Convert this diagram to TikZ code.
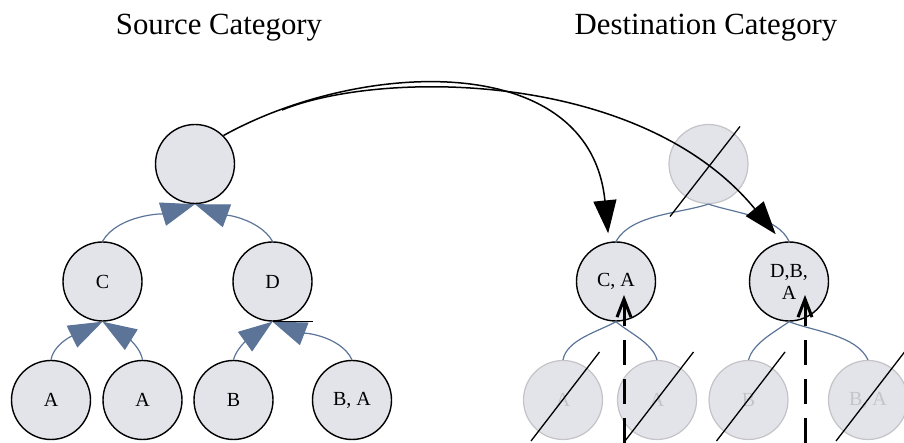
\documentclass[tikz,border=0pt]{standalone}
\usepackage{fontspec}
\setmainfont{Liberation Serif}
\usepackage{tikz}
\usetikzlibrary{arrows.meta, positioning}
\definecolor{catfill}{RGB}{227,228,234}
\definecolor{gonegray}{RGB}{196,196,200}
\definecolor{linkblue}{RGB}{91,116,152}
\tikzset{
  cat/.style={circle, draw=black, line width=0.7pt, fill=catfill, minimum size=39.5pt,
    inner sep=0pt, align=center, font=\fontsize{10}{11}\selectfont},
  gone/.style={cat, draw=gonegray, line width=0.6pt, text=gonegray},
  heading/.style={anchor=base, font=\fontsize{15.4}{18}\selectfont},
  link/.style={draw=linkblue, line width=0.6pt, looseness=0.8},
  uplink/.style={link, -{Triangle[length=17pt,width=12pt]}},
  maparr/.style={-{Triangle[length=16.5pt,width=11.5pt]}, line width=0.75pt},
  track/.style={-{Straight Barb[length=9pt,width=7pt]}, line width=1.5pt,
    dash pattern=on 12.5pt off 7pt},
  strike/.style={line width=0.65pt},
}

\begin{document}
\begin{tikzpicture}[on grid]
\useasboundingbox (0,0) rectangle (452pt,221.5pt);

% ── Headings ──
\node[heading] (srctitle) at (109.5pt,204pt) {Source Category};
\node[heading] (dsttitle) at (353pt,204pt) {Destination Category};

% ── Source tree ──
\node[cat] (src) at (97.5pt,139.5pt) {};
\node[cat, below left=58.75pt and 46.25pt of src] (c) {C};
\node[cat, below right=58.75pt and 38.75pt of src] (d) {D};
\node[cat, below left=59.25pt and 25.75pt of c] (a1) {A};
\node[cat, below right=59.25pt and 20pt of c] (a2) {A};
\node[cat, below left=59.25pt and 19.5pt of d] (b) {B};
\node[cat, below right=59.25pt and 39.75pt of d] (ba) {B, A};

% ── Destination tree ──
\node[gone] (dst) at (354.25pt,139.5pt) {};
\node[cat, below left=58.75pt and 46.25pt of dst] (ca) {C, A};
\node[cat, below right=58.75pt and 40.25pt of dst] (dba) {D,B,\\A};
\node[gone, below left=59.25pt and 26.5pt of ca] (l1) {A};
\node[gone, below right=59.25pt and 20.5pt of ca] (l2) {A};
\node[gone, below left=59.25pt and 20.25pt of dba] (l3) {B};
\node[gone, below right=59.25pt and 39.5pt of dba] (l4) {B, A};

% ── Tree links ──
\draw[uplink] (c.north) to[out=60,in=197] (src.south);
\draw[uplink] (d.north) to[out=120,in=-20] (src.south);
\draw[uplink] (a1.north) to[out=80,in=206] (c.south);
\draw[uplink] (a2.north) to[out=100,in=-32] (c.south);
\draw[uplink] (b.north) to[out=75,in=216] (d.south);
\draw[uplink] (ba.north) to[out=115,in=-21] (d.south);
\coordinate (stub) at ([xshift=20pt]d.south);
\draw[line width=0.6pt] (d.south) -- (stub);

\draw[link] (ca.north) to[out=60,in=198] (dst.south);
\draw[link] (dba.north) to[out=115,in=-19] (dst.south);
\draw[link] (l1.north) to[out=80,in=209] (ca.south);
\draw[link] (l2.north) to[out=105,in=-40] (ca.south);
\draw[link] (l3.north) to[out=75,in=216] (dba.south);
\draw[link] (l4.north) to[out=115,in=-21] (dba.south);

% ── Struck out categories ──
\draw[strike] ([shift={(-19.25pt,-26.25pt)}]dst.center) -- ([shift={(15.75pt,18.75pt)}]dst.center);
\foreach \n in {l1,l2,l3,l4}
  \draw[strike] ([shift={(-16pt,-20.5pt)}]\n.center) -- ([shift={(18.25pt,24pt)}]\n.center);

% ── Mapping arrows ──
\coordinate (hook) at (141pt,166.5pt);
\draw[maparr, shorten >=4.3pt] (src.45) .. controls +(68.5pt,38pt) and +(-9.6pt,96.3pt) .. (ca.100);
\draw[maparr, shorten >=5pt] (hook) .. controls +(49pt,20pt) and +(-71pt,86.3pt) .. (dba.100);

% ── Dashed tracks ──
\coordinate (foot1) at (312pt,0);
\coordinate (foot2) at (402.5pt,0);
\draw[track] (foot1) -- ([yshift=-6.75pt]foot1 |- ca.center);
\draw[track] (foot2) -- ([yshift=-6.75pt]foot2 |- dba.center);

\end{tikzpicture}
\end{document}
